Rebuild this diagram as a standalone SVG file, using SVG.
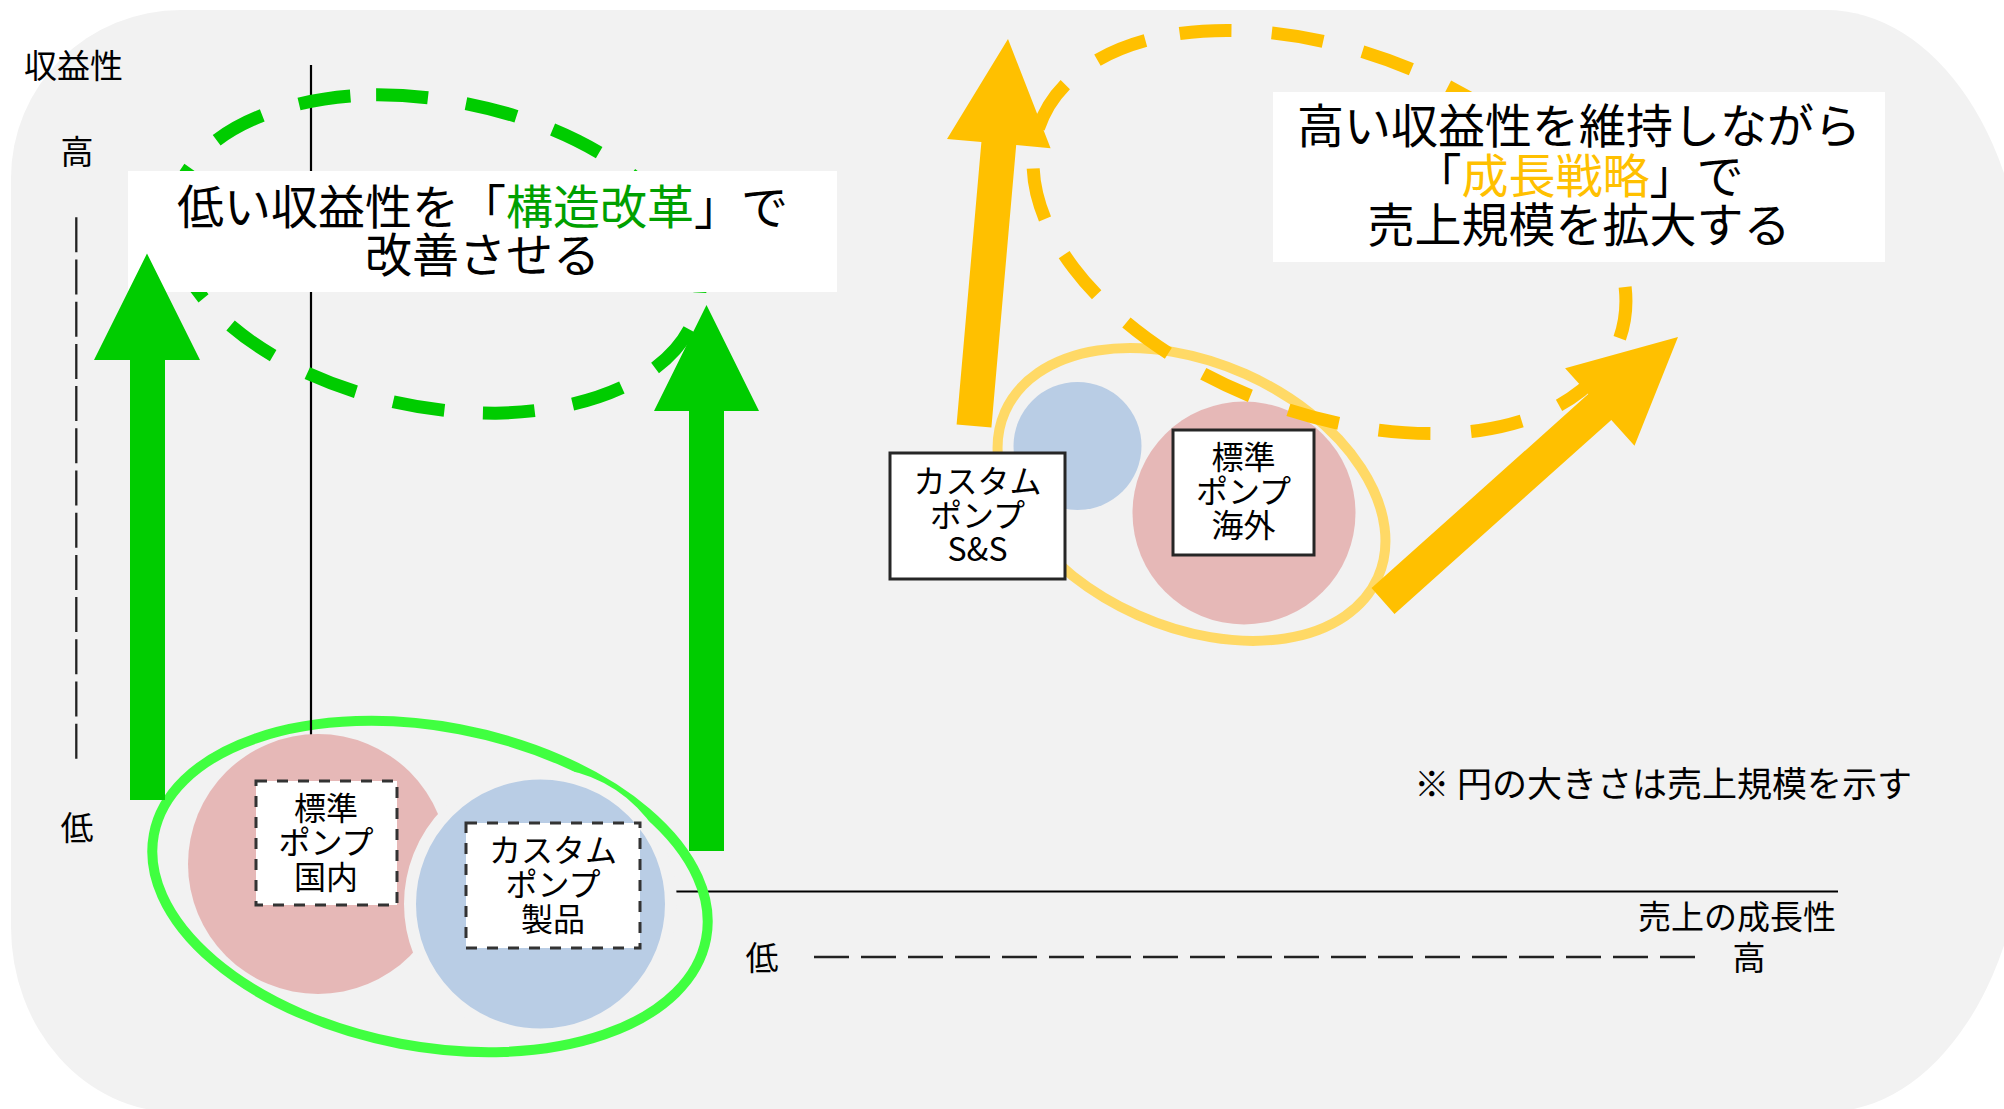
<svg xmlns="http://www.w3.org/2000/svg" width="2004" height="1109" viewBox="0 0 2004 1109">
<style>
text { font-family: "Noto Sans CJK JP", "Noto Sans", sans-serif; fill: #000; }
.lbl { font-size: 33px; }
.mid { text-anchor: middle; }
.big { font-size: 47px; text-anchor: middle; }
.bx { font-size: 32px; text-anchor: middle; }
.solidbox { fill: #fff; stroke: #262626; stroke-width: 3; }
.dashbox { fill: #fff; stroke: #333; stroke-width: 3; stroke-dasharray: 11 10; }
.axis { stroke: #000; stroke-width: 2.2; fill: none; }
.daxis { stroke: #222; stroke-width: 2.3; fill: none; }
.gdash { fill: none; stroke: #00CC00; stroke-width: 13; stroke-dasharray: 52 38.5; }
.ydash { fill: none; stroke: #FFC000; stroke-width: 13; stroke-dasharray: 52 40.5; }
.garrow { fill: #00CC00; }
.yarrow { fill: #FFC000; }
</style>
<rect x="0" y="0" width="2004" height="1109" fill="#fff"/>
<path id="background" d="M 181,10 H 1826 A 200 300 0 0 1 2026 310 V 806 A 200 306 0 0 1 1826 1112 H 176 A 165 185 0 0 1 11 927 V 178 A 170 168 0 0 1 181 10 Z" fill="#F2F2F2"/>

<g id="axes">
  <line class="axis" x1="311" y1="891.5" x2="1838" y2="891.5"/>
  <line class="daxis" x1="814" y1="957" x2="1695" y2="957" stroke-dasharray="35 12"/>
  <line class="daxis" x1="76.3" y1="217.3" x2="76.3" y2="760" stroke-dasharray="35 7.2"/>
  <text class="lbl" x="24" y="78">収益性</text>
  <text class="lbl mid" x="77" y="164">高</text>
  <text class="lbl mid" x="77" y="840">低</text>
  <text class="lbl mid" x="762" y="970">低</text>
  <text class="lbl mid" x="1749" y="970">高</text>
  <text class="lbl" x="1836" y="929" text-anchor="end" font-size="34">売上の成長性</text>
  <text x="1912" y="797" text-anchor="end" font-size="35">※ 円の大きさは売上規模を示す</text>
</g>

<g id="group-domestic">
  <ellipse cx="430" cy="886.5" rx="281" ry="160" transform="rotate(10.7 430 886.5)" fill="none" stroke="#40FF40" stroke-width="10"/>
</g>
<line id="axis-vertical" class="axis" x1="311" y1="65" x2="311" y2="736"/>

<g id="improve-ellipse" transform="translate(436 254) rotate(10.5)">
  <path class="gdash" d="M -87.9 -145.6 A 270 154 0 0 1 87.9 145.6 A 270 154 0 0 1 -87.9 -145.6 Z"/>
</g>
<g id="note-left">
  <rect x="128" y="171" width="709" height="121" fill="#fff"/>
  <text class="big" x="482.5" y="224">低い収益性を「<tspan fill="#00A000">構造改革</tspan>」で</text>
  <text class="big" x="482.5" y="272">改善させる</text>
</g>

<g id="node-kokunai">
  <circle cx="318" cy="864" r="130" fill="#E6B8B7"/>
  <rect class="dashbox" x="256" y="781" width="141" height="124"/>
  <text class="bx" x="326" y="820">標準</text>
  <text class="bx" x="326" y="854">ポンプ</text>
  <text class="bx" x="326" y="889">国内</text>
</g>
<g id="node-seihin">
  <circle cx="540.5" cy="904" r="130.5" fill="#B9CDE5" stroke="#F2F2F2" stroke-width="12"/>
  <rect class="dashbox" x="466" y="823" width="174" height="125"/>
  <text class="bx" x="553" y="862">カスタム</text>
  <text class="bx" x="553" y="896">ポンプ</text>
  <text class="bx" x="553" y="931">製品</text>
</g>

<g id="group-growth">
  <ellipse cx="1191.5" cy="494.5" rx="204" ry="132" transform="rotate(24 1191.5 494.5)" fill="none" stroke="#FFD966" stroke-width="10"/>
</g>
<circle id="circle-ss" cx="1077.5" cy="446" r="64" fill="#B9CDE5"/>
<circle id="circle-kaigai" cx="1244" cy="513" r="111.5" fill="#E6B8B7"/>

<g id="growth-ellipse" transform="translate(1329.5 232) rotate(20.3)">
  <path class="ydash" d="M -209.4 -134.2 A 310 182 0 0 1 209.4 134.2 A 310 182 0 0 1 -209.4 -134.2 Z"/>
</g>
<g id="note-right">
  <rect x="1273" y="92" width="612" height="170" fill="#fff"/>
  <text class="big" x="1579" y="143">高い収益性を維持しながら</text>
  <text class="big" x="1579" y="193">「<tspan fill="#FFC000">成長戦略</tspan>」で</text>
  <text class="big" x="1579" y="242">売上規模を拡大する</text>
</g>

<g id="node-ss">
  <rect class="solidbox" x="890" y="453" width="175" height="126"/>
  <text class="bx" x="977.5" y="493">カスタム</text>
  <text class="bx" x="977.5" y="527">ポンプ</text>
  <text class="bx" x="977.5" y="561">S&amp;S</text>
</g>
<g id="node-kaigai">
  <rect class="solidbox" x="1173" y="430" width="141" height="125"/>
  <text class="bx" x="1243.5" y="469">標準</text>
  <text class="bx" x="1243.5" y="503">ポンプ</text>
  <text class="bx" x="1243.5" y="537">海外</text>
</g>

<g id="connectors">
  <polygon class="garrow" points="130,800 130,360 94,360 147,253.5 200,360 165,360 165,800"/>
  <polygon class="garrow" points="689,851 689,411 654,411 706.5,305 759,411 724,411 724,851"/>
  <polygon class="yarrow" points="956.6,424.5 981.4,142.1 947,139 1008,39 1050.6,148.2 1016.2,145.1 991.4,427.5"/>
  <polygon class="yarrow" points="1371.5,588.1 1588.3,394.1 1565.1,368.3 1678,337 1634.5,445.7 1611.3,419.9 1394.5,613.9"/>
</g>
</svg>
